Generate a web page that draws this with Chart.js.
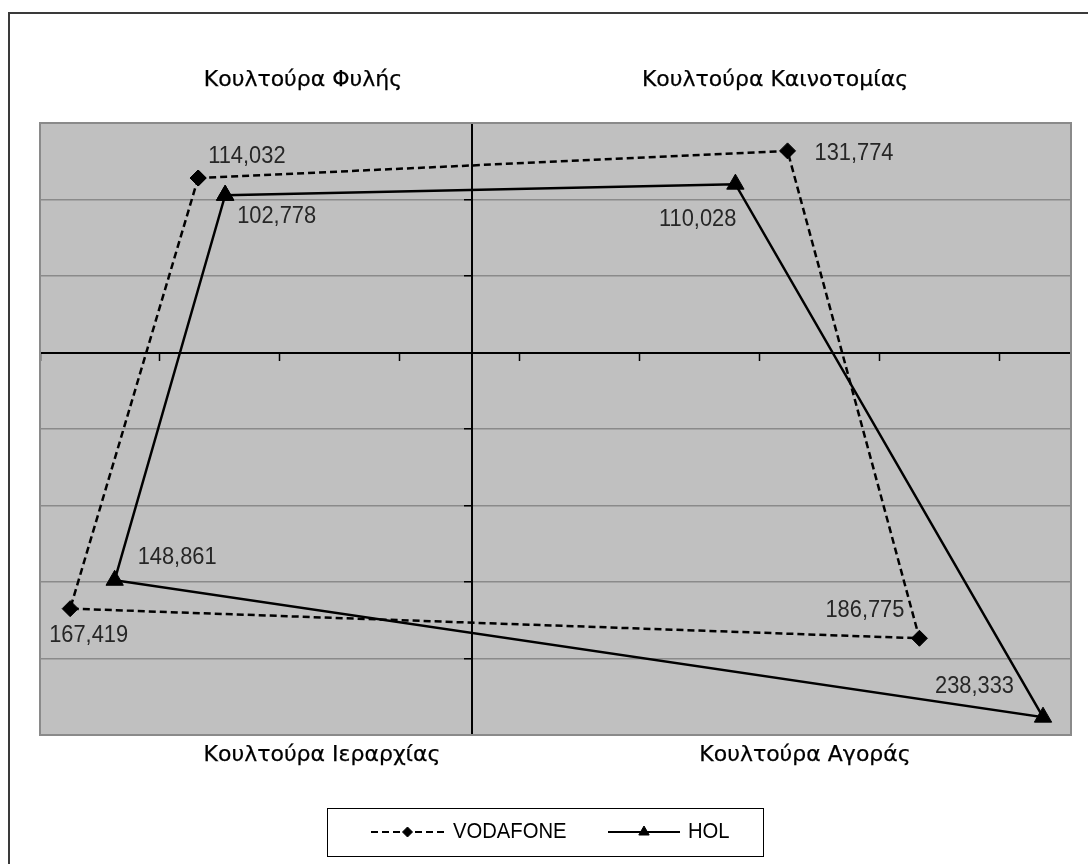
<!DOCTYPE html>
<html>
<head>
<meta charset="utf-8">
<script src="https://cdn.jsdelivr.net/npm/chart.js@4.4.1/dist/chart.umd.min.js"></script>
<style>
    html, body { margin: 0; padding: 0; background: #fff; }
    canvas { display: block; }
</style>
</head>
<body>
<canvas id="cvfChart" width="1088" height="864"></canvas>
<script>
// quadrant titles (top-left, top-right, bottom-left, bottom-right)
const quadrantTitles = ['Κουλτούρα Φυλής', 'Κουλτούρα Καινοτομίας', 'Κουλτούρα Ιεραρχίας', 'Κουλτούρα Αγοράς'];

// points go clan -> innovation -> market -> hierarchy
const vodafoneX = [-114.032, 131.774, 186.775, -167.419];
const vodafoneY = [114.032, 131.774, -186.775, -167.419];
const holX = [-102.778, 110.028, 238.333, -148.861];
const holY = [102.778, 110.028, -238.333, -148.861];

const xTicks = [-180, -130, -80, -30, 20, 70, 120, 170, 220];
const yTicks = [-250, -200, -150, -100, -50, 0, 50, 100, 150];

function toPoints(xs, ys) {
    const pts = xs.map((x, i) => ({ x: x, y: ys[i] }));
    pts.push({ x: xs[0], y: ys[0] }); // close the shape
    return pts;
}

function fmt(v) {
    return Math.abs(v).toFixed(3).replace('.', ',');
}

// where each data label sits relative to its marker
const vodafoneLabelPos = [[10, -21, 'left'], [27, 3, 'left'], [-15, -28, 'right'], [-21, 27, 'left']];
const holLabelPos = [[12, 21, 'left'], [1, 35, 'right'], [-29, -30, 'right'], [23, -23, 'left']];

function stretchedText(ctx, text, x, y, align, sx, bold) {
    ctx.save();
    ctx.translate(x, y);
    ctx.scale(sx, 1);
    ctx.textAlign = align;
    ctx.textBaseline = 'middle';
    ctx.fillText(text, 0, 0);
    if (bold) {
        ctx.lineWidth = bold;
        ctx.strokeStyle = ctx.fillStyle;
        ctx.strokeText(text, 0, 0);
    }
    ctx.restore();
}

const decorations = {
    id: 'decorations',
    beforeDraw(chart) {
        const { ctx, chartArea: a } = chart;
        ctx.save();
        ctx.fillStyle = '#fff';
        ctx.fillRect(0, 0, chart.width, chart.height);
        ctx.strokeStyle = '#3a3a3a';
        ctx.lineWidth = 2;
        ctx.strokeRect(9, 13, chart.width + 40, chart.height + 40);
        ctx.fillStyle = '#c0c0c0';
        ctx.fillRect(a.left, a.top, a.right - a.left, a.bottom - a.top);
        ctx.restore();
    },
    beforeDatasetsDraw(chart) {
        const { ctx, chartArea: a } = chart;
        ctx.save();
        ctx.strokeStyle = '#8a8a8a';
        ctx.lineWidth = 2;
        ctx.strokeRect(a.left, a.top, a.right - a.left, a.bottom - a.top);
        ctx.restore();
    },
    afterDatasetsDraw(chart) {
        const { ctx } = chart;
        ctx.save();
        // data labels
        ctx.fillStyle = '#262626';
        ctx.font = '23px "Liberation Sans", Arial, sans-serif';
        const sets = [[vodafoneX, vodafoneLabelPos], [holX, holLabelPos]];
        sets.forEach(([xs, pos], di) => {
            const meta = chart.getDatasetMeta(di);
            xs.forEach((v, i) => {
                const el = meta.data[i];
                stretchedText(ctx, fmt(v), el.x + pos[i][0], el.y + pos[i][1], pos[i][2], 0.95);
            });
        });

        // quadrant titles
        ctx.fillStyle = '#000';
        ctx.font = '22px "DejaVu Sans", sans-serif';
        const titlePos = [[303, 80], [775, 80], [322, 755], [805, 755]];
        quadrantTitles.forEach((t, i) => {
            stretchedText(ctx, t, titlePos[i][0], titlePos[i][1], 'center', 1.0, 0.25);
        });

        // legend
        ctx.strokeStyle = '#000';
        ctx.lineWidth = 1;
        ctx.strokeRect(327.5, 808.5, 436, 48);
        const ly = 832;
        const items = [[371, 444, 453], [608, 680, 688]];
        chart.data.datasets.forEach((ds, i) => {
            const [x1, x2, tx] = items[i];
            ctx.save();
            ctx.strokeStyle = '#000';
            ctx.lineWidth = 2;
            ctx.setLineDash(ds.borderDash || []);
            ctx.beginPath();
            ctx.moveTo(x1, ly);
            ctx.lineTo(x2, ly);
            ctx.stroke();
            ctx.restore();
            ctx.fillStyle = '#000';
            ctx.strokeStyle = '#000';
            Chart.helpers.drawPoint(ctx, {
                pointStyle: ds.pointStyle,
                radius: ds.pointStyle === 'triangle' ? 6 : 5,
                borderWidth: 1,
                rotation: 0
            }, (x1 + x2) / 2, ly);
            ctx.font = '22px "Liberation Sans", Arial, sans-serif';
            stretchedText(ctx, ds.label, tx, ly, 'left', 0.92);
        });
        ctx.restore();
    }
};

new Chart(document.getElementById('cvfChart').getContext('2d'), {
    type: 'scatter',
    data: {
        datasets: [
            {
                label: 'VODAFONE',
                data: toPoints(vodafoneX, vodafoneY),
                showLine: true,
                borderColor: '#000',
                backgroundColor: '#000',
                borderWidth: 2.5,
                borderDash: [7, 4],
                pointStyle: 'rectRot',
                pointRadius: 8,
                pointBorderWidth: 1,
                pointBackgroundColor: '#000',
                pointBorderColor: '#000'
            },
            {
                label: 'HOL',
                data: toPoints(holX, holY),
                showLine: true,
                borderColor: '#000',
                backgroundColor: '#000',
                borderWidth: 2.5,
                pointStyle: 'triangle',
                pointRadius: 10,
                pointBorderWidth: 1,
                pointBackgroundColor: '#000',
                pointBorderColor: '#000'
            }
        ]
    },
    options: {
        responsive: false,
        animation: false,
        layout: {
            padding: { left: 40, top: 123, right: 17, bottom: 129 }
        },
        plugins: {
            legend: { display: false },
            tooltip: { enabled: false }
        },
        scales: {
            x: {
                type: 'linear',
                min: -180,
                max: 250,
                position: { y: 0 },
                afterBuildTicks: (scale) => { scale.ticks = xTicks.map(v => ({ value: v })); },
                ticks: { display: false },
                grid: {
                    drawOnChartArea: false,
                    drawTicks: true,
                    tickLength: 7,
                    tickColor: '#000',
                    tickWidth: 1.5
                },
                border: { color: '#000', width: 2 }
            },
            y: {
                type: 'linear',
                min: -250,
                max: 150,
                position: { x: 0 },
                afterBuildTicks: (scale) => { scale.ticks = yTicks.map(v => ({ value: v })); },
                ticks: { display: false },
                grid: {
                    color: (c) => (c.tick && c.tick.value === 0) ? 'rgba(0,0,0,0)' : '#8a8a8a',
                    lineWidth: 1.5,
                    drawTicks: true,
                    tickLength: 7,
                    tickColor: '#000',
                    tickWidth: 1.5
                },
                border: { color: '#000', width: 2 }
            }
        }
    },
    plugins: [decorations]
});
</script>
</body>
</html>
